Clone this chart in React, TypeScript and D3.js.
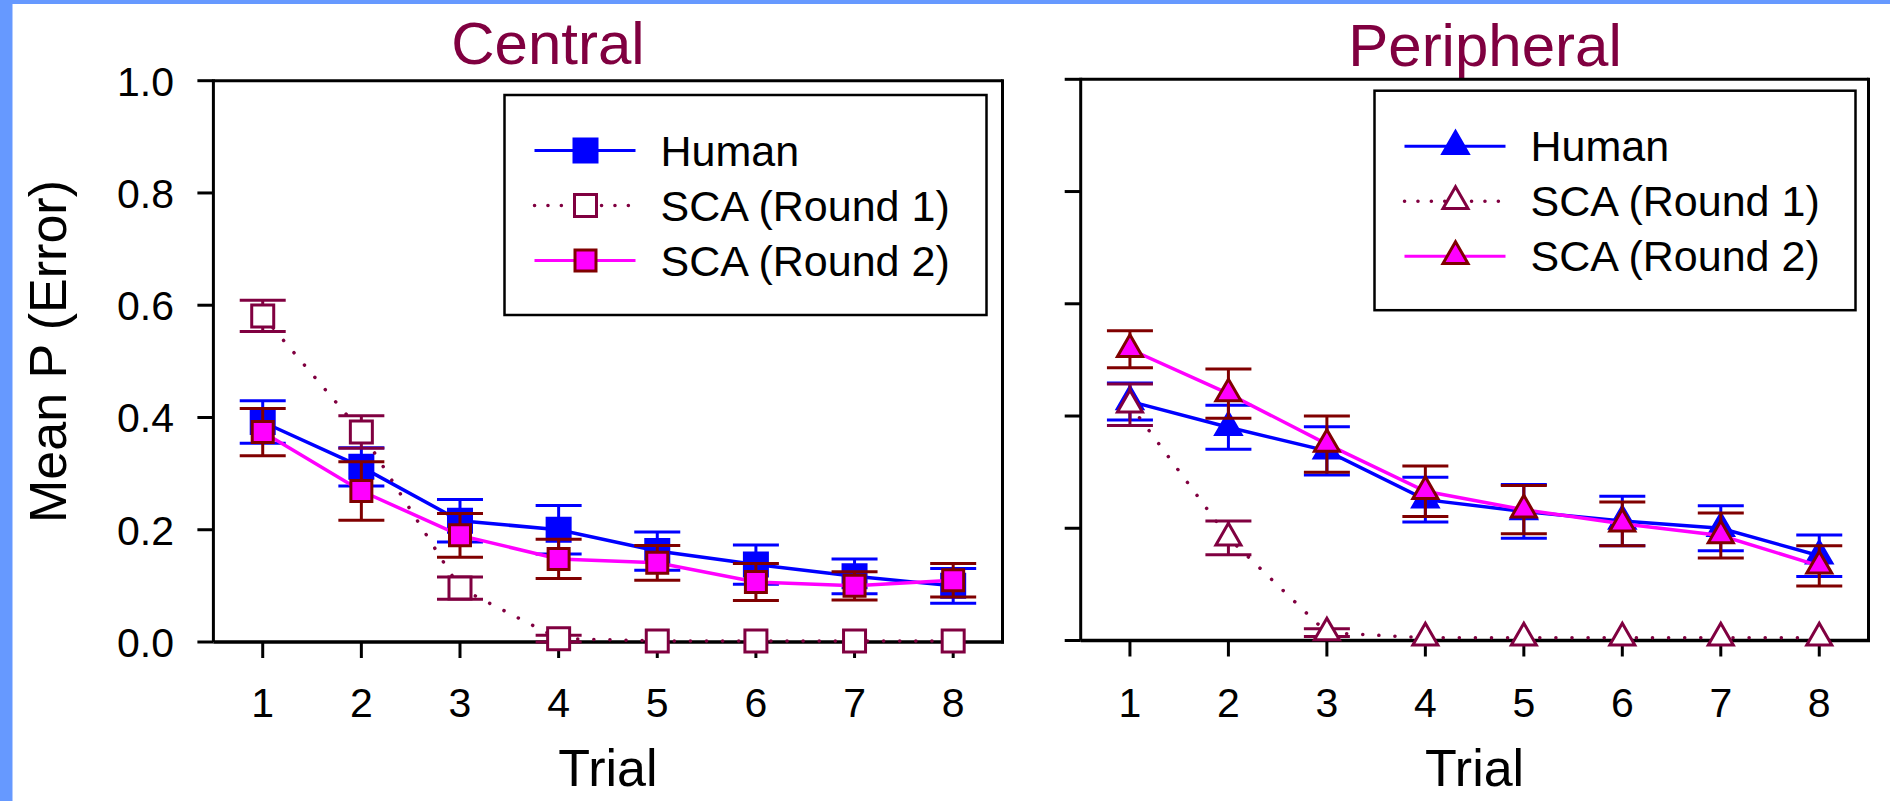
import * as d3 from 'd3';

// trial numbers and y ticks
const trials = [1, 2, 3, 4, 5, 6, 7, 8];
const yTicks = [0, 0.2, 0.4, 0.6, 0.8, 1.0];
const seriesNames = ['Human', 'SCA (Round 1)', 'SCA (Round 2)'];

// Central panel
const centralHuman = [0.392, 0.312, 0.216, 0.200, 0.162, 0.138, 0.117, 0.100];
const centralHumanErr = [0.038, 0.034, 0.038, 0.043, 0.034, 0.035, 0.031, 0.031];
const centralR1 = [0.581, 0.374, 0.096, 0.006, 0.002, 0.002, 0.002, 0.002];
const centralR1Err = [0.028, 0.029, 0.020, 0.006, 0, 0, 0, 0];
const centralR2 = [0.374, 0.269, 0.190, 0.148, 0.141, 0.107, 0.100, 0.110];
const centralR2Err = [0.042, 0.052, 0.039, 0.035, 0.031, 0.033, 0.025, 0.030];

// Peripheral panel
const periphHuman = [0.426, 0.380, 0.338, 0.251, 0.230, 0.213, 0.200, 0.151];
const periphHumanErr = [0.033, 0.039, 0.043, 0.040, 0.048, 0.044, 0.040, 0.037];
const periphR1 = [0.420, 0.183, 0.014, 0.005, 0.005, 0.005, 0.005, 0.005];
const periphR1Err = [0.037, 0.030, 0.007, 0, 0, 0, 0, 0];
const periphR2 = [0.519, 0.440, 0.350, 0.266, 0.233, 0.208, 0.187, 0.133];
const periphR2Err = [0.033, 0.044, 0.050, 0.045, 0.043, 0.039, 0.040, 0.036];

const FONT = '"Liberation Sans", Arial, sans-serif';
const TITLE_COLOR = '#800040';

const styles = [
  { line: '#0000ff', dash: null, err: '#0000ff', fill: '#0000ff', stroke: '#0000ff', sw: 2, sq: 24, tri: 27 },
  { line: '#800040', dash: '0.1 16', err: '#800040', fill: '#ffffff', stroke: '#800040', sw: 3, sq: 22, tri: 25 },
  { line: '#ff00ff', dash: null, err: '#800000', fill: '#ff00ff', stroke: '#800000', sw: 3, sq: 21, tri: 25 },
];

function markerPath(shape, side) {
  if (shape === 'square') return d3.symbol().type(d3.symbolSquare).size(side * side)();
  return d3.symbol().type(d3.symbolTriangle).size((Math.sqrt(3) / 4) * side * side)();
}

function Panel({ left, right, top, bottom, title, titleX, titleY, yLabels, shape, series, legend }) {
  const x = d3.scaleLinear().domain([0.5, 8.5]).range([left, right]);
  const y = d3.scaleLinear().domain([0, 1]).range([bottom, top]);
  const tick = 16;

  return (
    <g>
      <text x={titleX} y={titleY} textAnchor="middle" fontSize={60} fill={TITLE_COLOR} fontFamily={FONT}>{title}</text>

      {/* frame */}
      <line x1={left} x2={right} y1={top} y2={top} stroke="#000" strokeWidth={3} />
      <line x1={right} x2={right} y1={top - 1.5} y2={bottom + 1.5} stroke="#000" strokeWidth={3} />
      <line x1={left} x2={left} y1={top - 1.5} y2={bottom} stroke="#000" strokeWidth={3} />
      <line x1={left} x2={right + 1.5} y1={bottom} y2={bottom} stroke="#000" strokeWidth={3.5} />

      {yTicks.map(t => (
        <g key={'y' + t}>
          <line x1={left - tick} x2={left} y1={y(t)} y2={y(t)} stroke="#000" strokeWidth={3} />
          {yLabels && (
            <text x={174} y={y(t) + 15} textAnchor="end" fontSize={41} fontFamily={FONT}>{t.toFixed(1)}</text>
          )}
        </g>
      ))}
      {trials.map(t => (
        <g key={'x' + t}>
          <line x1={x(t)} x2={x(t)} y1={bottom} y2={bottom + tick} stroke="#000" strokeWidth={3} />
          <text x={x(t)} y={717} textAnchor="middle" fontSize={41} fontFamily={FONT}>{t}</text>
        </g>
      ))}
      <text x={(left + right) / 2} y={786} textAnchor="middle" fontSize={52} fontFamily={FONT}>Trial</text>

      {series.map((s, i) => {
        const st = styles[i];
        const line = d3.line().x((d, j) => x(trials[j])).y(d => y(d));
        return (
          <g key={'s' + i}>
            {s.values.map((v, j) => s.errs[j] > 0 && (
              <g key={'e' + j} stroke={st.err} strokeWidth={3}>
                <line x1={x(trials[j])} x2={x(trials[j])} y1={y(v + s.errs[j])} y2={y(v - s.errs[j])} />
                <line x1={x(trials[j]) - 23} x2={x(trials[j]) + 23} y1={y(v + s.errs[j])} y2={y(v + s.errs[j])} />
                <line x1={x(trials[j]) - 23} x2={x(trials[j]) + 23} y1={y(v - s.errs[j])} y2={y(v - s.errs[j])} />
              </g>
            ))}
            <path d={line(s.values)} fill="none" stroke={st.line} strokeWidth={3.5}
              strokeDasharray={st.dash || undefined} strokeLinecap={st.dash ? 'round' : 'butt'} />
            {s.values.map((v, j) => (
              <path key={'m' + j} d={markerPath(shape, shape === 'square' ? st.sq : st.tri)}
                transform={`translate(${x(trials[j])},${y(v)})`}
                fill={st.fill} stroke={st.stroke} strokeWidth={st.sw} />
            ))}
          </g>
        );
      })}

      {/* legend */}
      <rect x={legend.x} y={legend.y} width={legend.w} height={legend.h} fill="#fff" stroke="#000" strokeWidth={2.5} />
      {seriesNames.map((name, i) => {
        const st = styles[i];
        const ry = legend.y + 55.5 + i * 55;
        return (
          <g key={'l' + i}>
            <line x1={legend.x + 30} x2={legend.x + 131} y1={ry} y2={ry} stroke={st.line}
              strokeWidth={st.dash ? 3.5 : 3} strokeDasharray={st.dash ? '0.1 13.3' : undefined}
              strokeLinecap={st.dash ? 'round' : 'butt'} />
            <path d={markerPath(shape, shape === 'square' ? st.sq : st.tri)}
              transform={`translate(${legend.x + 81},${ry})`}
              fill={st.fill} stroke={st.stroke} strokeWidth={st.sw} />
            <text x={legend.x + 156} y={ry + 15} fontSize={43} fontFamily={FONT}>{name}</text>
          </g>
        );
      })}
    </g>
  );
}

export default function App() {
  const central = [
    { values: centralHuman, errs: centralHumanErr },
    { values: centralR1, errs: centralR1Err },
    { values: centralR2, errs: centralR2Err },
  ];
  const peripheral = [
    { values: periphHuman, errs: periphHumanErr },
    { values: periphR1, errs: periphR1Err },
    { values: periphR2, errs: periphR2Err },
  ];

  return (
    <svg width={1890} height={801} style={{ position: 'absolute', left: 0, top: 0 }}>
      <rect x={0} y={0} width={1890} height={801} fill="#6699ff" />
      <rect x={12.5} y={4} width={1877.5} height={797} fill="#ffffff" />

      <text transform="translate(66,351.5) rotate(-90)" textAnchor="middle" fontSize={52} fontFamily={FONT}>Mean P (Error)</text>

      <Panel left={213.4} right={1002.5} top={80.7} bottom={642} title="Central" titleX={548} titleY={64}
        yLabels={true} shape="square" series={central}
        legend={{ x: 504.5, y: 95, w: 482, h: 220 }} />
      <Panel left={1080.7} right={1868.5} top={79.3} bottom={640.5} title="Peripheral" titleX={1485} titleY={66}
        yLabels={false} shape="triangle" series={peripheral}
        legend={{ x: 1374.5, y: 90.7, w: 481, h: 219.5 }} />
    </svg>
  );
}
